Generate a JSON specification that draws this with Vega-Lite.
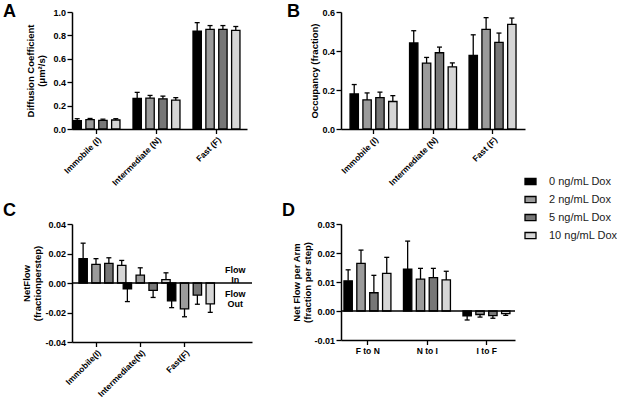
{
  "$schema": "https://vega.github.io/schema/vega-lite/v6.json",
  "padding": {"left": 3, "top": 3, "right": 2, "bottom": 0},
  "columns": 2,
  "bounds": "flush",
  "align": "none",
  "spacing": {"row": 95, "column": 89},
  "datasets": {
    "a": [
      {"cat": "Immobile (I)", "dose": "0 ng/mL Dox", "v": 0.072, "e": 0.088},
      {"cat": "Immobile (I)", "dose": "2 ng/mL Dox", "v": 0.08, "e": 0.09},
      {"cat": "Immobile (I)", "dose": "5 ng/mL Dox", "v": 0.074, "e": 0.084},
      {"cat": "Immobile (I)", "dose": "10 ng/mL Dox", "v": 0.077, "e": 0.088},
      {"cat": "Intermediate (N)", "dose": "0 ng/mL Dox", "v": 0.262, "e": 0.313},
      {"cat": "Intermediate (N)", "dose": "2 ng/mL Dox", "v": 0.264, "e": 0.287},
      {"cat": "Intermediate (N)", "dose": "5 ng/mL Dox", "v": 0.258, "e": 0.281},
      {"cat": "Intermediate (N)", "dose": "10 ng/mL Dox", "v": 0.246, "e": 0.268},
      {"cat": "Fast (F)", "dose": "0 ng/mL Dox", "v": 0.837, "e": 0.909},
      {"cat": "Fast (F)", "dose": "2 ng/mL Dox", "v": 0.851, "e": 0.884},
      {"cat": "Fast (F)", "dose": "5 ng/mL Dox", "v": 0.851, "e": 0.884},
      {"cat": "Fast (F)", "dose": "10 ng/mL Dox", "v": 0.843, "e": 0.876}
    ],
    "b": [
      {"cat": "Immobile (I)", "dose": "0 ng/mL Dox", "v": 0.18, "e": 0.228},
      {"cat": "Immobile (I)", "dose": "2 ng/mL Dox", "v": 0.149, "e": 0.185},
      {"cat": "Immobile (I)", "dose": "5 ng/mL Dox", "v": 0.161, "e": 0.189},
      {"cat": "Immobile (I)", "dose": "10 ng/mL Dox", "v": 0.141, "e": 0.171},
      {"cat": "Intermediate (N)", "dose": "0 ng/mL Dox", "v": 0.441, "e": 0.504},
      {"cat": "Intermediate (N)", "dose": "2 ng/mL Dox", "v": 0.338, "e": 0.367},
      {"cat": "Intermediate (N)", "dose": "5 ng/mL Dox", "v": 0.391, "e": 0.42},
      {"cat": "Intermediate (N)", "dose": "10 ng/mL Dox", "v": 0.319, "e": 0.339},
      {"cat": "Fast (F)", "dose": "0 ng/mL Dox", "v": 0.377, "e": 0.483},
      {"cat": "Fast (F)", "dose": "2 ng/mL Dox", "v": 0.511, "e": 0.571},
      {"cat": "Fast (F)", "dose": "5 ng/mL Dox", "v": 0.444, "e": 0.492},
      {"cat": "Fast (F)", "dose": "10 ng/mL Dox", "v": 0.537, "e": 0.569}
    ],
    "c": [
      {"cat": "Immobile(I)", "dose": "0 ng/mL Dox", "v": 0.0165, "e": 0.027},
      {"cat": "Immobile(I)", "dose": "2 ng/mL Dox", "v": 0.0126, "e": 0.0165},
      {"cat": "Immobile(I)", "dose": "5 ng/mL Dox", "v": 0.0133, "e": 0.0171},
      {"cat": "Immobile(I)", "dose": "10 ng/mL Dox", "v": 0.0119, "e": 0.0153},
      {"cat": "Intermediate(N)", "dose": "0 ng/mL Dox", "v": -0.0039, "e": -0.0126},
      {"cat": "Intermediate(N)", "dose": "2 ng/mL Dox", "v": 0.0053, "e": 0.0103},
      {"cat": "Intermediate(N)", "dose": "5 ng/mL Dox", "v": -0.005, "e": -0.0098},
      {"cat": "Intermediate(N)", "dose": "10 ng/mL Dox", "v": 0.0023, "e": 0.0069},
      {"cat": "Fast(F)", "dose": "0 ng/mL Dox", "v": -0.0121, "e": -0.0167},
      {"cat": "Fast(F)", "dose": "2 ng/mL Dox", "v": -0.0176, "e": -0.0229},
      {"cat": "Fast(F)", "dose": "5 ng/mL Dox", "v": -0.0082, "e": -0.0144},
      {"cat": "Fast(F)", "dose": "10 ng/mL Dox", "v": -0.0142, "e": -0.0199}
    ],
    "cflow": [
      {"cat": "flow", "v": 0.009, "t": "Flow\nIn"},
      {"cat": "flow", "v": -0.0072, "t": "Flow\nOut"}
    ],
    "d": [
      {"cat": "F to N", "dose": "0 ng/mL Dox", "v": 0.0104, "e": 0.0142},
      {"cat": "F to N", "dose": "2 ng/mL Dox", "v": 0.0164, "e": 0.021},
      {"cat": "F to N", "dose": "5 ng/mL Dox", "v": 0.0063, "e": 0.0123},
      {"cat": "F to N", "dose": "10 ng/mL Dox", "v": 0.013, "e": 0.0185},
      {"cat": "N to I", "dose": "0 ng/mL Dox", "v": 0.0144, "e": 0.0241},
      {"cat": "N to I", "dose": "2 ng/mL Dox", "v": 0.011, "e": 0.0147},
      {"cat": "N to I", "dose": "5 ng/mL Dox", "v": 0.0115, "e": 0.0147},
      {"cat": "N to I", "dose": "10 ng/mL Dox", "v": 0.0107, "e": 0.0137},
      {"cat": "I to F", "dose": "0 ng/mL Dox", "v": -0.0017, "e": -0.0031},
      {"cat": "I to F", "dose": "2 ng/mL Dox", "v": -0.0012, "e": -0.0021},
      {"cat": "I to F", "dose": "5 ng/mL Dox", "v": -0.0016, "e": -0.0025},
      {"cat": "I to F", "dose": "10 ng/mL Dox", "v": -0.0009, "e": -0.0015}
    ]
  },
  "concat": [
    {
      "width": 175,
      "height": 117,
      "title": {"text": "A", "dx": -69, "dy": 3, "offset": -10},
      "data": {"name": "a"},
      "layer": [
        {
          "mark": {"type": "bar", "stroke": "#000", "strokeWidth": 1.3},
          "encoding": {
            "x": {"field": "cat", "type": "nominal", "title": null,
              "scale": {"domain": ["Immobile (I)", "Intermediate (N)", "Fast (F)"], "paddingInner": 0.217, "paddingOuter": 0.067, "align": 0.125},
              "axis": {"labelAngle": -45, "labelAlign": "right", "labelBaseline": "top"}},
            "xOffset": {"field": "dose", "type": "nominal", "scale": {"domain": ["0 ng/mL Dox", "2 ng/mL Dox", "5 ng/mL Dox", "10 ng/mL Dox"], "paddingInner": 0.35}},
            "y": {"field": "v", "type": "quantitative", "title": ["Diffusion Coefficient", "(μm²/s)"],
              "scale": {"domain": [0, 1], "nice": false},
              "axis": {"values": [0, 0.2, 0.4, 0.6, 0.8, 1], "tickCount": 12, "format": ".1f", "titlePadding": 6}},
            "fill": {"field": "dose", "type": "nominal", "title": null,
              "scale": {"domain": ["0 ng/mL Dox", "2 ng/mL Dox", "5 ng/mL Dox", "10 ng/mL Dox"], "range": ["#000000", "#9b9b9b", "#777777", "#d6d6d6"]},
              "legend": {"orient": "none", "legendX": 452, "legendY": 163, "symbolType": "M-1,-0.55H1V0.55H-1Z", "symbolSize": 121, "symbolStrokeColor": "#000", "symbolStrokeWidth": 1.3, "symbolOpacity": 1, "rowPadding": 5, "labelOffset": 12, "padding": 0, "labelFont": "Liberation Sans", "labelFontSize": 11, "labelFontWeight": "normal", "labelColor": "#1a1a1a"}}
          }
        },
        {
          "mark": {"type": "rule", "strokeWidth": 1.3, "color": "#000"},
          "encoding": {
            "x": {"field": "cat", "type": "nominal", "title": null, "scale": {"domain": ["Immobile (I)", "Intermediate (N)", "Fast (F)"], "paddingInner": 0.217, "paddingOuter": 0.067, "align": 0.125}},
            "xOffset": {"field": "dose", "type": "nominal", "scale": {"domain": ["0 ng/mL Dox", "2 ng/mL Dox", "5 ng/mL Dox", "10 ng/mL Dox"], "paddingInner": 0.35}},
            "y": {"field": "v", "type": "quantitative"},
            "y2": {"field": "e"}
          }
        },
        {
          "mark": {"type": "tick", "orient": "horizontal", "size": 5, "thickness": 1.3, "color": "#000", "opacity": 1},
          "encoding": {
            "x": {"field": "cat", "type": "nominal", "title": null, "scale": {"domain": ["Immobile (I)", "Intermediate (N)", "Fast (F)"], "paddingInner": 0.217, "paddingOuter": 0.067, "align": 0.125}},
            "xOffset": {"field": "dose", "type": "nominal", "scale": {"domain": ["0 ng/mL Dox", "2 ng/mL Dox", "5 ng/mL Dox", "10 ng/mL Dox"], "paddingInner": 0.35}},
            "y": {"field": "e", "type": "quantitative"}
          }
        }
      ]
    },
    {
      "width": 184,
      "height": 117,
      "title": {"text": "B", "dx": -54, "dy": 3, "offset": -10},
      "data": {"name": "b"},
      "layer": [
        {
          "mark": {"type": "bar", "stroke": "#000", "strokeWidth": 1.3},
          "encoding": {
            "x": {"field": "cat", "type": "nominal", "title": null,
              "scale": {"domain": ["Immobile (I)", "Intermediate (N)", "Fast (F)"], "paddingInner": 0.2, "paddingOuter": 0.146, "align": 0.52},
              "axis": {"labelAngle": -45, "labelAlign": "right", "labelBaseline": "top"}},
            "xOffset": {"field": "dose", "type": "nominal", "scale": {"domain": ["0 ng/mL Dox", "2 ng/mL Dox", "5 ng/mL Dox", "10 ng/mL Dox"], "paddingInner": 0.35}},
            "y": {"field": "v", "type": "quantitative", "title": "Occupancy (fraction)",
              "scale": {"domain": [0, 0.6], "nice": false},
              "axis": {"values": [0, 0.2, 0.4, 0.6], "tickCount": 12, "format": ".1f", "titlePadding": 2}},
            "fill": {"field": "dose", "type": "nominal", "title": null,
              "scale": {"domain": ["0 ng/mL Dox", "2 ng/mL Dox", "5 ng/mL Dox", "10 ng/mL Dox"], "range": ["#000000", "#9b9b9b", "#777777", "#d6d6d6"]}}
          }
        },
        {
          "mark": {"type": "rule", "strokeWidth": 1.3, "color": "#000"},
          "encoding": {
            "x": {"field": "cat", "type": "nominal", "title": null, "scale": {"domain": ["Immobile (I)", "Intermediate (N)", "Fast (F)"], "paddingInner": 0.2, "paddingOuter": 0.146, "align": 0.52}},
            "xOffset": {"field": "dose", "type": "nominal", "scale": {"domain": ["0 ng/mL Dox", "2 ng/mL Dox", "5 ng/mL Dox", "10 ng/mL Dox"], "paddingInner": 0.35}},
            "y": {"field": "v", "type": "quantitative"},
            "y2": {"field": "e"}
          }
        },
        {
          "mark": {"type": "tick", "orient": "horizontal", "size": 5, "thickness": 1.3, "color": "#000", "opacity": 1},
          "encoding": {
            "x": {"field": "cat", "type": "nominal", "title": null, "scale": {"domain": ["Immobile (I)", "Intermediate (N)", "Fast (F)"], "paddingInner": 0.2, "paddingOuter": 0.146, "align": 0.52}},
            "xOffset": {"field": "dose", "type": "nominal", "scale": {"domain": ["0 ng/mL Dox", "2 ng/mL Dox", "5 ng/mL Dox", "10 ng/mL Dox"], "paddingInner": 0.35}},
            "y": {"field": "e", "type": "quantitative"}
          }
        }
      ]
    },
    {
      "width": 180,
      "height": 118,
      "title": {"text": "C", "dx": -69, "dy": 3, "offset": 3},
      "data": {"name": "c"},
      "layer": [
        {
          "mark": {"type": "bar", "stroke": "#000", "strokeWidth": 1.3},
          "encoding": {
            "x": {"field": "cat", "type": "nominal", "title": null,
              "scale": {"domain": ["Immobile(I)", "Intermediate(N)", "Fast(F)", "flow"], "paddingInner": 0.213, "paddingOuter": 0.14, "align": 0.56},
              "axis": {"values": ["Immobile(I)", "Intermediate(N)", "Fast(F)"], "labelAngle": -45, "labelAlign": "right", "labelBaseline": "top"}},
            "xOffset": {"field": "dose", "type": "nominal", "scale": {"domain": ["0 ng/mL Dox", "2 ng/mL Dox", "5 ng/mL Dox", "10 ng/mL Dox"], "paddingInner": 0.32}},
            "y": {"field": "v", "type": "quantitative", "title": ["NetFlow", "(fractionperstep)"],
              "scale": {"domain": [-0.04, 0.04], "nice": false},
              "axis": {"values": [-0.04, -0.02, 0, 0.02, 0.04], "tickCount": 12, "format": ".2f", "titlePadding": 2}},
            "fill": {"field": "dose", "type": "nominal", "title": null,
              "scale": {"domain": ["0 ng/mL Dox", "2 ng/mL Dox", "5 ng/mL Dox", "10 ng/mL Dox"], "range": ["#000000", "#9b9b9b", "#777777", "#d6d6d6"]}}
          }
        },
        {
          "mark": {"type": "rule", "strokeWidth": 1.3, "color": "#000"},
          "encoding": {
            "x": {"field": "cat", "type": "nominal", "title": null, "scale": {"domain": ["Immobile(I)", "Intermediate(N)", "Fast(F)", "flow"], "paddingInner": 0.213, "paddingOuter": 0.14, "align": 0.56}},
            "xOffset": {"field": "dose", "type": "nominal", "scale": {"domain": ["0 ng/mL Dox", "2 ng/mL Dox", "5 ng/mL Dox", "10 ng/mL Dox"], "paddingInner": 0.32}},
            "y": {"field": "v", "type": "quantitative"},
            "y2": {"field": "e"}
          }
        },
        {
          "mark": {"type": "tick", "orient": "horizontal", "size": 5, "thickness": 1.3, "color": "#000", "opacity": 1},
          "encoding": {
            "x": {"field": "cat", "type": "nominal", "title": null, "scale": {"domain": ["Immobile(I)", "Intermediate(N)", "Fast(F)", "flow"], "paddingInner": 0.213, "paddingOuter": 0.14, "align": 0.56}},
            "xOffset": {"field": "dose", "type": "nominal", "scale": {"domain": ["0 ng/mL Dox", "2 ng/mL Dox", "5 ng/mL Dox", "10 ng/mL Dox"], "paddingInner": 0.32}},
            "y": {"field": "e", "type": "quantitative"}
          }
        },
        {
          "data": {"values": [{"z": 0}]},
          "mark": {"type": "rule", "strokeWidth": 1.5, "color": "#000"},
          "encoding": {"y": {"field": "z", "type": "quantitative"}}
        },
        {
          "data": {"name": "cflow"},
          "mark": {"type": "text", "font": "Liberation Sans", "fontWeight": "bold", "fontSize": 9, "lineBreak": "\n", "lineHeight": 10, "dx": 6, "align": "center", "baseline": "middle", "color": "#000"},
          "encoding": {
            "x": {"field": "cat", "type": "nominal", "title": null, "scale": {"domain": ["Immobile(I)", "Intermediate(N)", "Fast(F)", "flow"], "paddingInner": 0.213, "paddingOuter": 0.14, "align": 0.56}},
            "y": {"field": "v", "type": "quantitative"},
            "text": {"field": "t"}
          }
        }
      ]
    },
    {
      "width": 174,
      "height": 116,
      "title": {"text": "D", "dx": -59, "dy": 3, "offset": 3},
      "data": {"name": "d"},
      "layer": [
        {
          "mark": {"type": "bar", "stroke": "#000", "strokeWidth": 1.3},
          "encoding": {
            "x": {"field": "cat", "type": "nominal", "title": null,
              "scale": {"domain": ["F to N", "N to I", "I to F"], "paddingInner": 0.2, "paddingOuter": 0.062, "align": 0.4},
              "axis": {"labelAngle": 0}},
            "xOffset": {"field": "dose", "type": "nominal", "scale": {"domain": ["0 ng/mL Dox", "2 ng/mL Dox", "5 ng/mL Dox", "10 ng/mL Dox"], "paddingInner": 0.38}},
            "y": {"field": "v", "type": "quantitative", "title": ["Net Flow per Arm", "(fraction per step)"],
              "scale": {"domain": [-0.01, 0.03], "nice": false},
              "axis": {"values": [-0.01, 0, 0.01, 0.02, 0.03], "tickCount": 12, "format": ".2f", "titlePadding": 1}},
            "fill": {"field": "dose", "type": "nominal", "title": null,
              "scale": {"domain": ["0 ng/mL Dox", "2 ng/mL Dox", "5 ng/mL Dox", "10 ng/mL Dox"], "range": ["#000000", "#9b9b9b", "#777777", "#d6d6d6"]}}
          }
        },
        {
          "mark": {"type": "rule", "strokeWidth": 1.3, "color": "#000"},
          "encoding": {
            "x": {"field": "cat", "type": "nominal", "title": null, "scale": {"domain": ["F to N", "N to I", "I to F"], "paddingInner": 0.2, "paddingOuter": 0.062, "align": 0.4}},
            "xOffset": {"field": "dose", "type": "nominal", "scale": {"domain": ["0 ng/mL Dox", "2 ng/mL Dox", "5 ng/mL Dox", "10 ng/mL Dox"], "paddingInner": 0.38}},
            "y": {"field": "v", "type": "quantitative"},
            "y2": {"field": "e"}
          }
        },
        {
          "mark": {"type": "tick", "orient": "horizontal", "size": 5, "thickness": 1.3, "color": "#000", "opacity": 1},
          "encoding": {
            "x": {"field": "cat", "type": "nominal", "title": null, "scale": {"domain": ["F to N", "N to I", "I to F"], "paddingInner": 0.2, "paddingOuter": 0.062, "align": 0.4}},
            "xOffset": {"field": "dose", "type": "nominal", "scale": {"domain": ["0 ng/mL Dox", "2 ng/mL Dox", "5 ng/mL Dox", "10 ng/mL Dox"], "paddingInner": 0.38}},
            "y": {"field": "e", "type": "quantitative"}
          }
        },
        {
          "data": {"values": [{"z": 0}]},
          "mark": {"type": "rule", "strokeWidth": 1.5, "color": "#000"},
          "encoding": {"y": {"field": "z", "type": "quantitative"}}
        }
      ]
    }
  ],
  "config": {
    "view": {"stroke": null},
    "font": "Liberation Sans",
    "locale": {"number": {"decimal": ".", "thousands": ",", "grouping": [3], "currency": ["$", ""], "minus": "-"}},
    "title": {"font": "Liberation Sans", "fontSize": 18, "fontWeight": "bold", "anchor": "start", "frame": "group", "baseline": "top", "color": "#000"},
    "axis": {
      "grid": false, "labelOverlap": false, "labelFlush": false,
      "labelFont": "Liberation Sans", "labelFontWeight": "bold", "labelFontSize": 9, "labelColor": "#000", "labelPadding": 1.5,
      "titleFont": "Liberation Sans", "titleFontWeight": "bold", "titleFontSize": 9.5, "titleColor": "#000", "titleLineHeight": 11,
      "domainColor": "#000", "domainWidth": 1.5, "tickColor": "#000", "tickWidth": 1.3, "tickSize": 5
    },
    "axisX": {"labelFontSize": 8.5, "tickSize": 4.5}
  }
}
